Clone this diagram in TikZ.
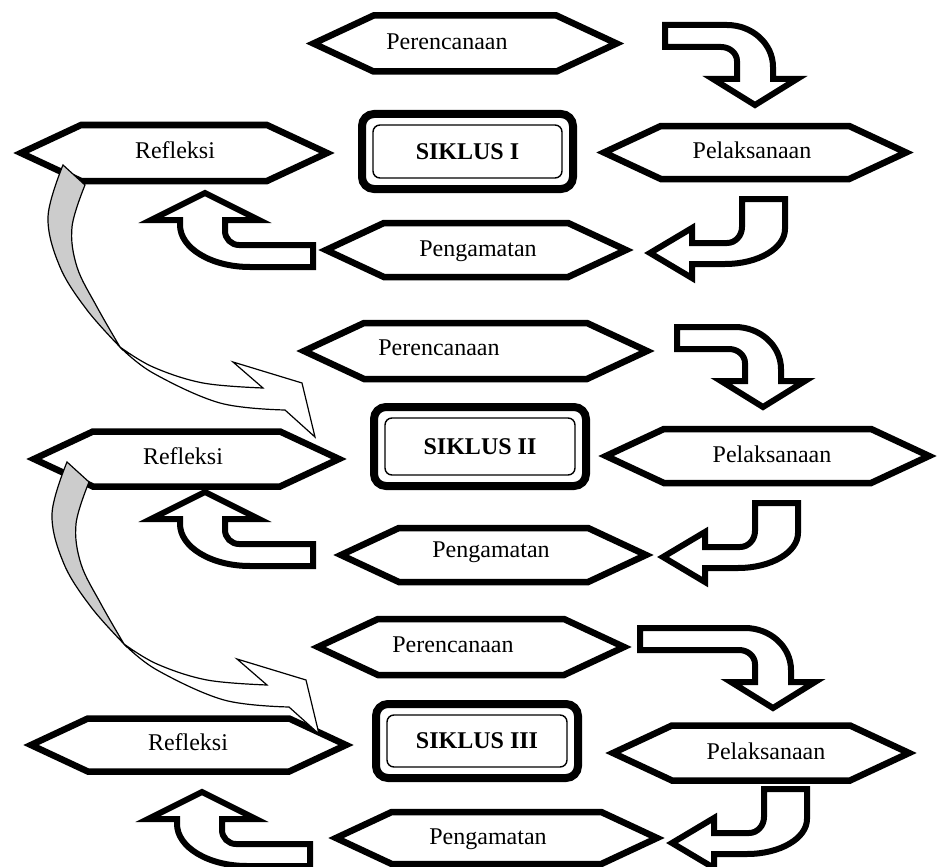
\documentclass[tikz,border=0pt]{standalone}
\usepackage{fontspec}
\setmainfont{Liberation Serif}
\usetikzlibrary{shapes.symbols}

\begin{document}
\begin{tikzpicture}[
        x=1pt, y=-1pt,
        every node/.style={font=\fontsize{24}{28}\selectfont},
        hexa/.style={draw, line width=6.5pt, fill=white, shape=signal, signal to=east and west, signal pointer angle=50, inner sep=0pt, outer sep=0pt},
        txt/.style={inner sep=0pt, text height=16pt, text depth=5pt},
        siklus/.style={draw, line width=8pt, rounded corners=12pt, fill=white, inner sep=0pt, outer sep=0pt, font=\fontsize{24}{28}\selectfont\bfseries},
        innerframe/.style={line width=1.4pt, rounded corners=7pt},
        blockarrow/.style={draw, line width=6pt, fill=white, line join=miter},
        backarrow/.style={draw, line width=1.2pt, fill=white, line join=miter},
        pics/turndown/.style={code={
            \draw[blockarrow] (-#1,-80) -- (-28,-80) .. controls (-2.6,-80) and (18,-61.2) .. (18,-38) -- (18,-26) -- (42,-26) -- (0,0) -- (-42,-26) -- (-18,-26) -- (-18,-44) .. controls (-18,-51.7) and (-25.2,-58) .. (-34,-58) -- (-#1,-58) -- cycle;
        }},
        pics/turnleft/.style={code={
            \draw[blockarrow] (92,-54) -- (135,-54) -- (135,-24) .. controls (135,-4.7) and (108.1,11) .. (75,11) -- (42,11) -- (42,25) -- (0,0) -- (42,-25) -- (42,-10) -- (77,-10) .. controls (85.3,-10) and (92,-17.2) .. (92,-26) -- cycle;
        }},
        pics/turnup/.style={code={
            \draw[blockarrow] (108,52) -- (108,74) -- (45,74) .. controls (6.4,74) and (-25,55.2) .. (-25,32) -- (-25,27) -- (-54,27) -- (0,0) -- (54,27) -- (20,27) -- (20,38) .. controls (20,45.7) and (26.3,52) .. (34,52) -- cycle;
        }},
        pics/backcurve/.style={code={
            \draw[backarrow] plot[smooth, tension=0.6] coordinates {(57,182) (90,202) (140,218) (200,223)} -- (170,197) -- (239,218) -- (252,272) -- (222,245) -- plot[smooth, tension=0.6] coordinates {(222,245) (157,238) (90,208) (57,182)} -- cycle;
            \draw[backarrow, fill=gray!40] plot[smooth, tension=0.6] coordinates {(0,0) (-15,52) (-3,102) (24,145) (57,182)} -- plot[smooth, tension=0.6] coordinates {(57,182) (34,142) (14,102) (9,62) (22,20)} -- cycle;
        }}
    ]
        \useasboundingbox (0,0) rectangle (938,867);

        % Siklus I
        \node[hexa, minimum width=303pt, minimum height=56pt] (per1) at (465,43.5) {};
        \node[txt] (per1t) at (447,44) {Perencanaan};
        \node[hexa, minimum width=306pt, minimum height=56pt] (ref1) at (174,153) {};
        \node[txt] (ref1t) at (175,153) {Refleksi};
        \node[siklus, minimum width=211pt, minimum height=75pt] (sik1) at (467.5,151.5) {SIKLUS I};
        \node[hexa, minimum width=302pt, minimum height=53pt] (pel1) at (755,152.5) {};
        \node[txt] (pel1t) at (752,153) {Pelaksanaan};
        \node[hexa, minimum width=300pt, minimum height=54pt] (peng1) at (476,250) {};
        \node[txt] (peng1t) at (478,251) {Pengamatan};

        % Siklus II
        \node[hexa, minimum width=343pt, minimum height=56pt] (per2) at (475.5,351) {};
        \node[txt] (per2t) at (439,350) {Perencanaan};
        \node[hexa, minimum width=305pt, minimum height=55pt] (ref2) at (186.5,459) {};
        \node[txt] (ref2t) at (183,459) {Refleksi};
        \node[siklus, minimum width=212pt, minimum height=79pt] (sik2) at (480,446.5) {SIKLUS II};
        \node[hexa, minimum width=323pt, minimum height=54pt] (pel2) at (767.5,456) {};
        \node[txt] (pel2t) at (772,457) {Pelaksanaan};
        \node[hexa, minimum width=305pt, minimum height=54pt] (peng2) at (493.5,555) {};
        \node[txt] (peng2t) at (491,552) {Pengamatan};

        % Siklus III
        \node[hexa, minimum width=306pt, minimum height=56pt] (per3) at (471,647) {};
        \node[txt] (per3t) at (453,647) {Perencanaan};
        \node[hexa, minimum width=315pt, minimum height=53pt] (ref3) at (188.5,745) {};
        \node[txt] (ref3t) at (188,745) {Refleksi};
        \node[siklus, minimum width=202pt, minimum height=74pt] (sik3) at (477,741) {SIKLUS III};
        \node[hexa, minimum width=296pt, minimum height=55pt] (pel3) at (761,753) {};
        \node[txt] (pel3t) at (766,754) {Pelaksanaan};
        \node[hexa, minimum width=321pt, minimum height=52pt] (peng3) at (496.5,838) {};
        \node[txt] (peng3t) at (488,839) {Pengamatan};

        % Inner frames of the cycle boxes
        \foreach \s in {sik1, sik2, sik3}
            \draw[innerframe] ([shift={(11,11)}]\s.north west) rectangle ([shift={(-11,-11)}]\s.south east);

        % Bent arrows
        \pic at (755,105) {turndown=90};
        \pic at (650,253) {turnleft};
        \pic at (205,193) {turnup};
        \pic at (763,407) {turndown=86};
        \pic at (663,557) {turnleft};
        \pic at (205,492) {turnup};
        \pic at (773,708) {turndown=133};
        \pic at (672,843) {turnleft};
        \pic at (202,792) {turnup};

        % Curved arrows from Refleksi to the next cycle
        \pic at (63,165) {backcurve};
        \pic at (67,462) {backcurve};
    \end{tikzpicture}
\end{document}
